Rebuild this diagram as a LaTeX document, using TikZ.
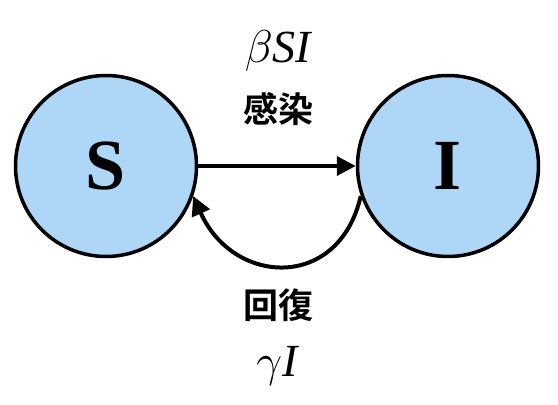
\RequirePackage{fix-cm}
\documentclass[tikz,border=0pt]{standalone}
\usepackage{fontspec}
\setmainfont{Liberation Serif}
\newfontfamily\cjk{Noto Sans CJK JP}[BoldFont={Noto Sans CJK JP Bold}]
\usetikzlibrary{arrows.meta}
\definecolor{stateblue}{RGB}{174,214,247}

\begin{document}
\begin{tikzpicture}[x=1pt, y=1pt,
  state/.style = {draw, circle, line width=3.5pt, fill=stateblue, minimum size=181pt, inner sep=0pt, font=\fontsize{72}{72}\selectfont\bfseries},
  rate/.style = {inner sep=0pt, font=\fontsize{46}{46}\selectfont\itshape},
  word/.style = {inner sep=0pt, font=\fontsize{35}{35}\selectfont\cjk\bfseries},
  flow/.style = {line width=4pt, -{Triangle[length=19pt, width=19pt]}}]
\useasboundingbox (0,0) rectangle (558,405);
\node[state] (s) at (106,239) {S};
\node[state] (i) at (448,239) {I};
\node[rate, anchor=base] (beta) at (278,342) {$\beta$SI};
\node[word] (infect) at (278,296) {感染};
\node[word] (recover) at (278,100) {回復};
\node[rate, anchor=base] (gamma) at (277,28) {$\gamma$I};
\draw[flow] (s) -- (i);
\draw[flow] (i.199) to[out=-103, in=-66, looseness=1.5] (s.-19);
\end{tikzpicture}
\end{document}
